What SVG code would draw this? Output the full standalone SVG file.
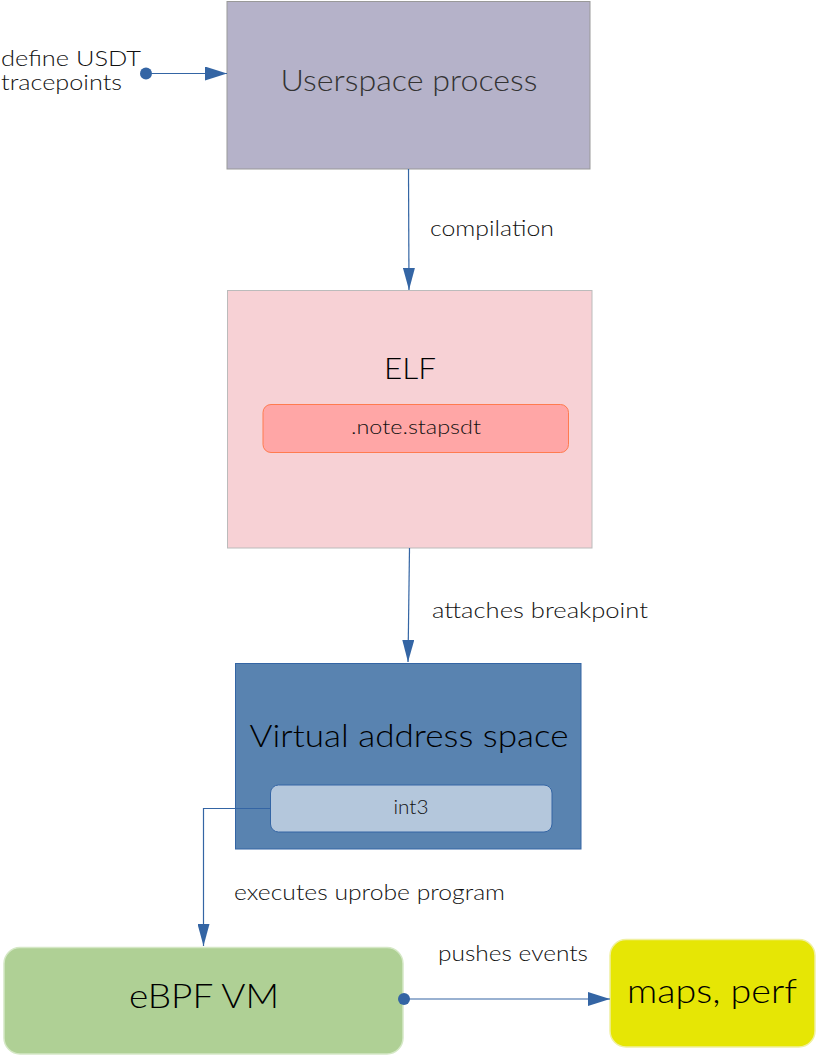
<svg xmlns="http://www.w3.org/2000/svg" width="816" height="1056" viewBox="0 0 816 1056">
<defs>
<style>
text{font-family:Lato,"Open Sans","Liberation Sans",sans-serif;font-weight:300;}
.lbl{font-size:21px;fill:#111;}
.conn{stroke:#3465a4;stroke-width:1.2;fill:none;}
</style>
<marker id="arr" markerWidth="22" markerHeight="14" refX="22" refY="7" orient="auto" markerUnits="userSpaceOnUse">
<path d="M0,0 L22,7 L0,14 Z" fill="#3465a4"/>
</marker>
<marker id="arrv" markerWidth="22" markerHeight="12" refX="22" refY="6" orient="auto" markerUnits="userSpaceOnUse">
<path d="M0,0 L22,6 L0,12 Z" fill="#3465a4"/>
</marker>
</defs>
<rect width="816" height="1056" fill="#fff"/>

<g id="userspace">
<rect x="227" y="1.5" width="363" height="167.5" fill="#b5b2c9" stroke="#999" stroke-width="1"/>
<text x="409" y="91" font-size="29" fill="#333" text-anchor="middle" textLength="257" lengthAdjust="spacingAndGlyphs">Userspace process</text>
</g>

<g id="elf">
<rect x="227.5" y="290.5" width="364.5" height="257.5" fill="#f7d1d5" stroke="#bbb" stroke-width="1"/>
<text x="410" y="379" font-size="30" fill="#000" text-anchor="middle" textLength="52" lengthAdjust="spacingAndGlyphs">ELF</text>
<g id="note">
<rect x="263" y="404.5" width="305.5" height="48" rx="8" fill="#ffa6a6" stroke="#ff7b4f" stroke-width="1"/>
<text x="416" y="434" font-size="19" fill="#111" text-anchor="middle" textLength="130" lengthAdjust="spacingAndGlyphs">.note.stapsdt</text>
</g>
</g>

<g id="vas">
<rect x="235.5" y="663.5" width="345.5" height="185.5" fill="#5983b0" stroke="#3465a4" stroke-width="1"/>
<text x="409" y="747" font-size="31" fill="#000" text-anchor="middle" textLength="319" lengthAdjust="spacingAndGlyphs">Virtual address space</text>
<g id="int3">
<rect x="270.5" y="785" width="281.5" height="47" rx="8" fill="#b4c7dc" stroke="#3465a4" stroke-width="1"/>
<text x="411" y="814" font-size="19" fill="#111" text-anchor="middle" textLength="35" lengthAdjust="spacingAndGlyphs">int3</text>
</g>
</g>

<g id="ebpf">
<rect x="4" y="947.5" width="399" height="106.5" rx="16" fill="#afd095" stroke="#d5e8c6" stroke-width="1.5"/>
<text x="204" y="1008" font-size="34" fill="#000" text-anchor="middle" textLength="150" lengthAdjust="spacingAndGlyphs">eBPF VM</text>
</g>

<g id="maps">
<rect x="610" y="939.5" width="205" height="107.5" rx="16" fill="#e6e605" stroke="#f0f0a0" stroke-width="1.5"/>
<text x="712" y="1003" font-size="34" fill="#000" text-anchor="middle" textLength="170" lengthAdjust="spacingAndGlyphs">maps, perf</text>
</g>

<g id="connectors">
<circle cx="146" cy="73.5" r="6" fill="#3465a4"/>
<line class="conn" x1="146" y1="73.5" x2="227" y2="73.5" marker-end="url(#arr)"/>
<line class="conn" x1="408.5" y1="169" x2="409" y2="290" marker-end="url(#arrv)"/>
<line class="conn" x1="409.5" y1="548" x2="408" y2="662" marker-end="url(#arrv)"/>
<path class="conn" d="M270.5,808.5 H203.5 V946" marker-end="url(#arrv)"/>
<circle cx="404" cy="999" r="6" fill="#3465a4"/>
<line class="conn" x1="404" y1="999" x2="610" y2="999" marker-end="url(#arr)"/>
</g>

<g id="labels">
<text class="lbl" x="1" y="66" textLength="140" lengthAdjust="spacingAndGlyphs">define USDT</text>
<text class="lbl" x="1" y="90" textLength="121" lengthAdjust="spacingAndGlyphs">tracepoints</text>
<text class="lbl" x="430" y="236" textLength="124" lengthAdjust="spacingAndGlyphs">compilation</text>
<text class="lbl" x="432" y="618" textLength="216" lengthAdjust="spacingAndGlyphs">attaches breakpoint</text>
<text class="lbl" x="234" y="900" textLength="271" lengthAdjust="spacingAndGlyphs">executes uprobe program</text>
<text class="lbl" x="438" y="961" textLength="150" lengthAdjust="spacingAndGlyphs">pushes events</text>
</g>
</svg>
